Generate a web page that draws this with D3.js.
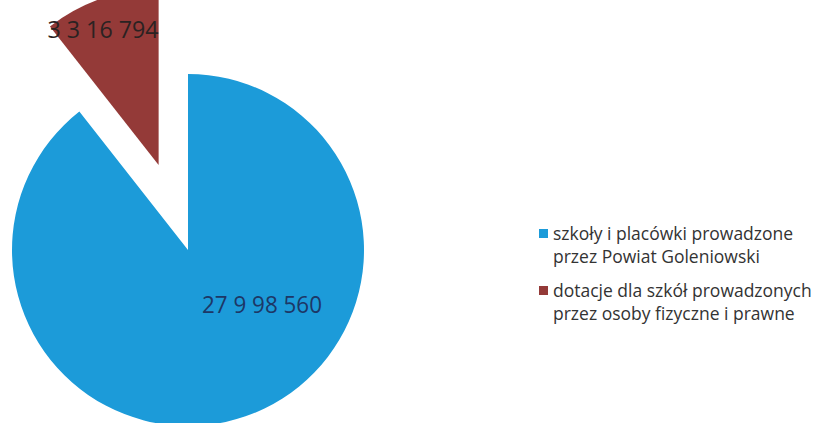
<!DOCTYPE html>
<html>
<head>
<meta charset="utf-8">
<script src="https://cdn.jsdelivr.net/npm/d3@7"></script>
<style>
  body { margin: 0; background: #fff; }
  svg { display: block; }
</style>
</head>
<body>
<svg id="chart"></svg>
<script>
// chart values
const categories = [
  "szkoły i placówki prowadzone przez Powiat Goleniowski",
  "dotacje dla szkół prowadzonych przez osoby fizyczne i prawne"
];
const values = [27998560, 3316794];
const valueLabels = ["27 9 98 560", "3 3 16 794"];
const legendLines = [
  ["szkoły i placówki prowadzone", "przez Powiat Goleniowski"],
  ["dotacje dla szkół prowadzonych", "przez osoby fizyczne i prawne"]
];
const colors = ["#1c9bd9", "#943a38"];

const width = 822;
const height = 423;
const cx = 188;
const cy = 250;
const radius = 176;
const explode = [0, 90];

const svg = d3.select("#chart").attr("width", width).attr("height", height);

const pie = d3.pie().sort(null).value((d) => d);
const arcs = pie(values);
const arc = d3.arc().innerRadius(0).outerRadius(radius);

const offset = (d, i) => {
  const mid = (d.startAngle + d.endAngle) / 2;
  return [Math.sin(mid) * explode[i], -Math.cos(mid) * explode[i]];
};

const g = svg.append("g").attr("transform", `translate(${cx},${cy})`);

g.selectAll(".slice")
  .data(arcs)
  .enter()
  .append("path")
  .attr("class", "slice")
  .attr("d", arc)
  .attr("fill", (d, i) => colors[i])
  .attr("transform", (d, i) => `translate(${offset(d, i)})`);

// value labels
const labelPos = [
  [74, 63],
  [-85, -212]
];
g.selectAll(".val")
  .data(arcs)
  .enter()
  .append("text")
  .attr("class", "val")
  .attr("x", (d, i) => labelPos[i][0])
  .attr("y", (d, i) => labelPos[i][1])
  .attr("text-anchor", "middle")
  .attr("font-family", "'Open Sans', sans-serif")
  .attr("font-size", 23)
  .attr("textLength", (d, i) => (i === 0 ? 120 : 111))
  .attr("lengthAdjust", "spacingAndGlyphs")
  .attr("fill", (d, i) => (i === 0 ? "#1d3766" : "#2b2222"))
  .text((d, i) => valueLabels[i]);

// legend
const legend = svg.append("g").attr("transform", "translate(539,0)");
const legendY = [240, 297];

const items = legend.selectAll(".item")
  .data(categories)
  .enter()
  .append("g")
  .attr("class", "item")
  .attr("transform", (d, i) => `translate(0,${legendY[i]})`);

items.append("rect")
  .attr("x", 0)
  .attr("y", -11)
  .attr("width", 9)
  .attr("height", 9)
  .attr("fill", (d, i) => colors[i]);

items.append("text")
  .attr("x", 14)
  .attr("y", 0)
  .attr("font-family", "'Open Sans', sans-serif")
  .attr("font-size", 17.5)
  .attr("fill", "#333")
  .selectAll("tspan")
  .data((d, i) => legendLines[i])
  .enter()
  .append("tspan")
  .attr("x", 14)
  .attr("dy", (d, j) => (j === 0 ? 0 : 23))
  .text((d) => d);
</script>
</body>
</html>
